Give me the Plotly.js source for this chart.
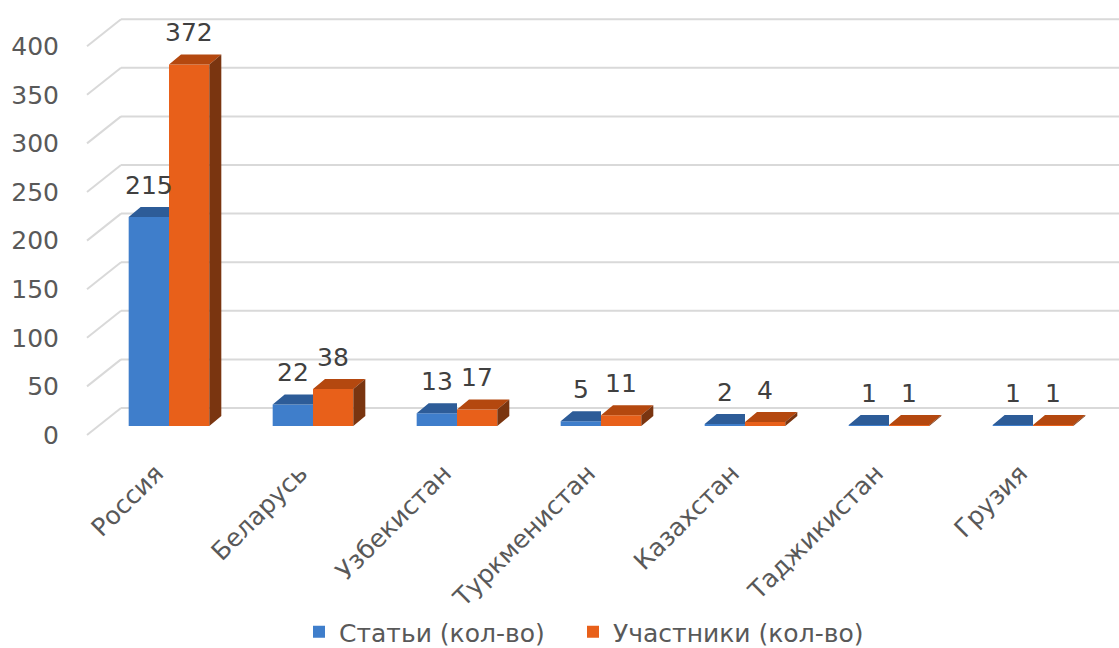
<!DOCTYPE html>
<html>
<head>
<meta charset="utf-8">
<script src="https://cdn.plot.ly/plotly-3.0.1.min.js"></script>
<style>html,body{margin:0;padding:0;background:#fff;overflow:hidden;}#chart{width:1119px;height:648px;}</style>
</head>
<body>
<div id="chart"></div>
<script>
// ---- data ----
const categories = ['Россия', 'Беларусь', 'Узбекистан', 'Туркменистан', 'Казахстан', 'Таджикистан', 'Грузия'];
const articles = [215, 22, 13, 5, 2, 1, 1];
const participants = [372, 38, 17, 11, 4, 1, 1];
const seriesNames = ['Статьи (кол-во)', 'Участники (кол-во)'];
const yTicks = [0, 50, 100, 150, 200, 250, 300, 350, 400];

// ---- geometry / style (pixels on a 1119x648 page) ----
const W = 1119, H = 648;
const S = 0.972;            // px per value unit
const BASE_PX = 426;        // bar base
const Y_MIN = -12, Y_MAX = 420;
const CAT0_PX = 169, CAT_STEP = 144;
const PLOT_L = 87, PLOT_R = 1119;
const BAR_W = 0.28;         // in category units
const DEPTH_X = 12 / CAT_STEP;  // 3D depth, category units
const DEPTH_Y = 10 / S;         // 3D depth, value units
const BACK_OFF = 18 / S;        // back wall offset (value units)
const FRONT_OFF = -9 / S;       // front (label) plane offset
const BACK_L = 121;
const LABEL_SHIFT = -13 / CAT_STEP;

const blue = '#3f7ecb', blueTop = '#2d5c98';
const orange = '#e8601a', orangeTop = '#b4480f', orangeSide = '#7a3510';
const font = '"DejaVu Sans", "Open Sans", sans-serif';
const textColor = '#595959';

const idx = categories.map((c, i) => i);

// top / side faces of the 3D bars
function polys(fn) {
  const xs = [], ys = [];
  idx.forEach(i => {
    const p = fn(i);
    p.forEach(pt => { xs.push(pt[0]); ys.push(pt[1]); });
    xs.push(p[0][0]); ys.push(p[0][1]);
    xs.push(null); ys.push(null);
  });
  return {xs, ys};
}
const blueTopP = polys(i => {
  const L = i - BAR_W, R = i, v = articles[i];
  return [[L, v], [R, v], [R, v + DEPTH_Y], [L + DEPTH_X, v + DEPTH_Y]];
});
const orTopP = polys(i => {
  const L = i, R = i + BAR_W, v = participants[i];
  return [[L, v], [R, v], [R + DEPTH_X, v + DEPTH_Y], [L + DEPTH_X, v + DEPTH_Y]];
});
const orSideP = polys(i => {
  const R = i + BAR_W, v = participants[i];
  return [[R, 0], [R, v], [R + DEPTH_X, v + DEPTH_Y], [R + DEPTH_X, DEPTH_Y]];
});

const faceTrace = (p, color) => ({
  type: 'scatter', mode: 'lines', x: p.xs, y: p.ys, fill: 'toself',
  fillcolor: color, line: {width: 0, color: color}, hoverinfo: 'skip', showlegend: false
});

const data = [
  {type: 'bar', name: seriesNames[0], x: idx, y: articles, width: BAR_W, offset: -BAR_W,
   marker: {color: blue, line: {width: 0}}, hoverinfo: 'y', legend: 'legend'},
  {type: 'bar', name: seriesNames[1], x: idx, y: participants, width: BAR_W, offset: 0,
   marker: {color: orange, line: {width: 0}}, hoverinfo: 'y', legend: 'legend2'},
  faceTrace(blueTopP, blueTop),
  faceTrace(orTopP, orangeTop),
  faceTrace(orSideP, orangeSide)
];

// gridlines on back wall + diagonals to the front plane
const shapes = [];
yTicks.forEach(v => {
  shapes.push({type: 'line', layer: 'below', xref: 'paper', yref: 'y',
    x0: BACK_L / W, x1: 1, y0: v + BACK_OFF, y1: v + BACK_OFF,
    line: {color: '#d9d9d9', width: 2}});
  shapes.push({type: 'line', layer: 'below', xref: 'paper', yref: 'y',
    x0: PLOT_L / W, x1: BACK_L / W, y0: v + FRONT_OFF, y1: v + BACK_OFF,
    line: {color: '#d9d9d9', width: 2}});
});

// data labels
const annotations = [];
idx.forEach(i => {
  annotations.push({x: i - BAR_W / 2, y: articles[i], xref: 'x', yref: 'y', text: String(articles[i]),
    showarrow: false, yanchor: 'middle', yshift: 32, font: {family: font, size: 25, color: '#404040'}});
  annotations.push({x: i + BAR_W / 2, y: participants[i], xref: 'x', yref: 'y', text: String(participants[i]),
    showarrow: false, yanchor: 'middle', yshift: 32, font: {family: font, size: 25, color: '#404040'}});
});

const legendBase = {orientation: 'h', xanchor: 'left', y: 1 - 632 / H, yanchor: 'middle',
  font: {family: font, size: 25, color: textColor}, bgcolor: 'rgba(0,0,0,0)'};

const yBot = BASE_PX - Y_MIN * S, yTop = BASE_PX - Y_MAX * S;
const layout = {
  width: W, height: H, autosize: false,
  margin: {l: 0, r: 0, t: 0, b: 0, pad: 0, autoexpand: false},
  paper_bgcolor: '#ffffff', plot_bgcolor: 'rgba(0,0,0,0)',
  barmode: 'overlay',
  font: {family: font, color: textColor},
  xaxis: {
    domain: [PLOT_L / W, PLOT_R / W],
    range: [-(CAT0_PX - PLOT_L) / CAT_STEP, (PLOT_R - CAT0_PX) / CAT_STEP],
    tickmode: 'array', tickvals: idx.map(i => i + LABEL_SHIFT), ticktext: categories, tickangle: -45,
    ticks: 'outside', ticklen: 10, tickcolor: 'rgba(0,0,0,0)',
    tickfont: {family: font, size: 25, color: textColor},
    showgrid: false, zeroline: false, showline: false, fixedrange: true, automargin: false
  },
  yaxis: {
    domain: [1 - yBot / H, 1 - yTop / H],
    range: [Y_MIN, Y_MAX],
    tickmode: 'array', tickvals: yTicks.map(v => v + FRONT_OFF), ticktext: yTicks.map(String),
    ticks: 'outside', ticklen: 22, tickcolor: 'rgba(0,0,0,0)',
    tickfont: {family: font, size: 25, color: textColor},
    showgrid: false, zeroline: false, showline: false, fixedrange: true, automargin: false
  },
  showlegend: true,
  legend: Object.assign({}, legendBase, {x: 299 / W}),
  legend2: Object.assign({}, legendBase, {x: 573 / W}),
  shapes: shapes,
  annotations: annotations
};

Plotly.newPlot('chart', data, layout, {displayModeBar: false, staticPlot: true});
</script>
</body>
</html>
